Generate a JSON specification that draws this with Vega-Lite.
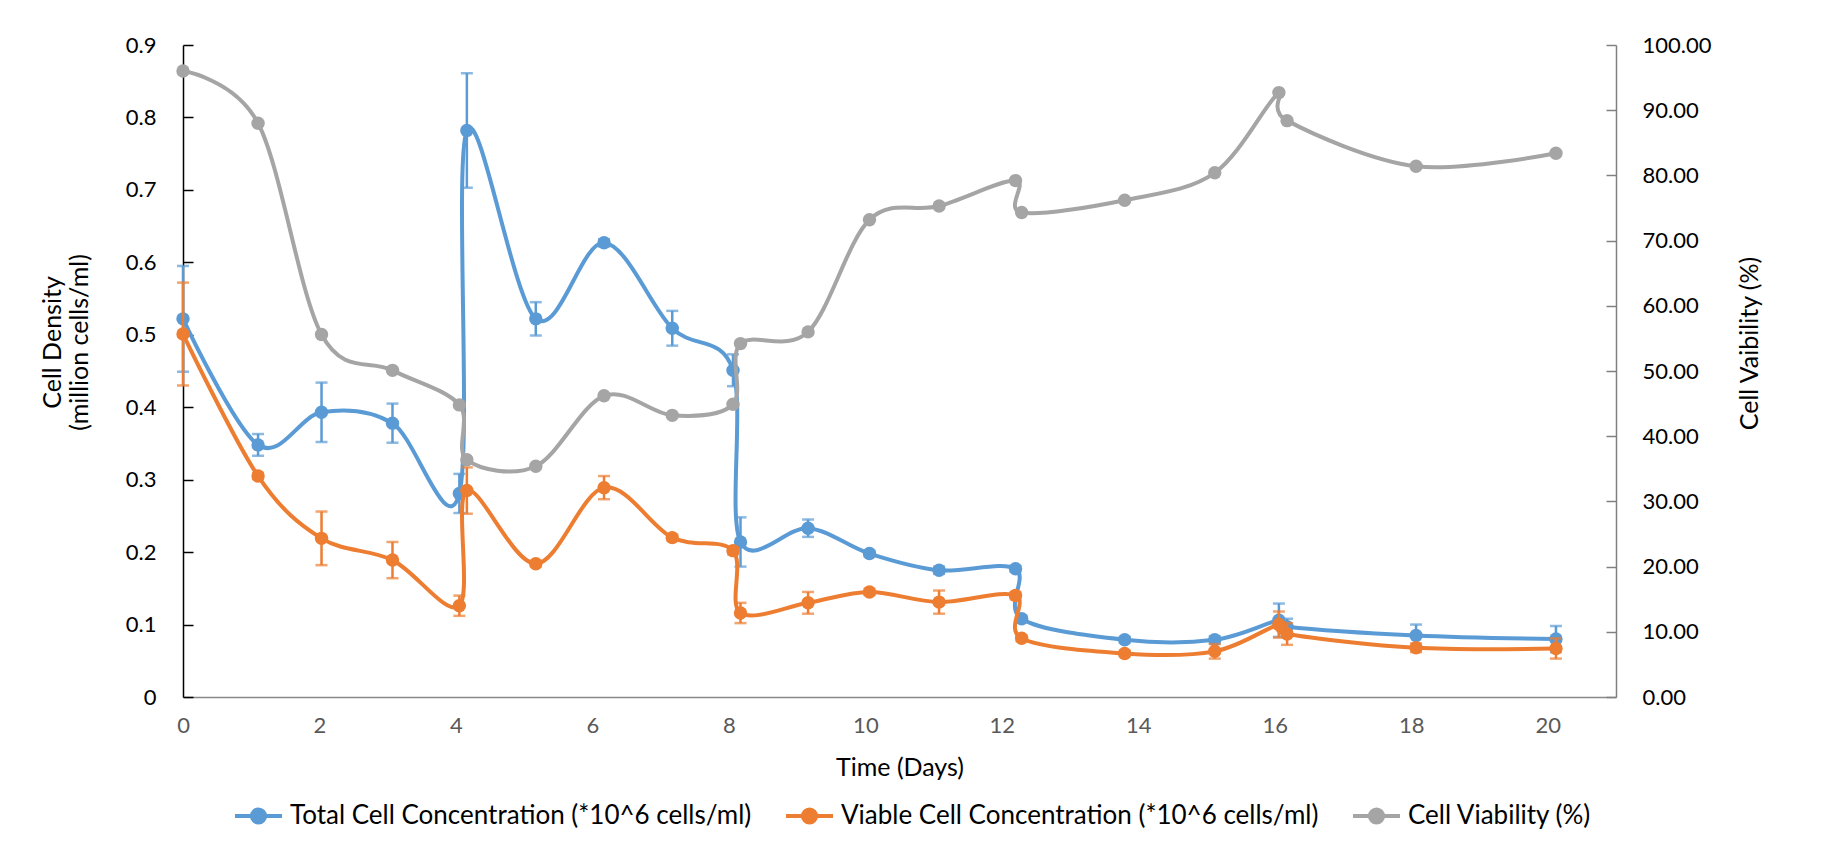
{
  "$schema": "https://vega.github.io/schema/vega-lite/v6.json",
  "width": 1433,
  "height": 652,
  "autosize": {"type": "none"},
  "padding": {"left": 183, "top": 45, "right": 211, "bottom": 154},
  "background": "white",
  "config": {
    "view": {"stroke": null},
    "font": "Lato",
    "axis": {"grid": false, "labelFont": "Lato", "titleFont": "Lato", "titleFontWeight": "normal"}
  },
  "data": {
    "values": [
      {"day": 0,     "total": 0.522, "total_err": 0.073, "viable": 0.501, "viable_err": 0.071, "viability": 96.0},
      {"day": 1.1,   "total": 0.348, "total_err": 0.015, "viable": 0.305, "viable_err": 0.004, "viability": 88.0},
      {"day": 2.03,  "total": 0.393, "total_err": 0.041, "viable": 0.219, "viable_err": 0.037, "viability": 55.6},
      {"day": 3.07,  "total": 0.378, "total_err": 0.027, "viable": 0.189, "viable_err": 0.025, "viability": 50.1},
      {"day": 4.05,  "total": 0.281, "total_err": 0.027, "viable": 0.126, "viable_err": 0.014, "viability": 44.8},
      {"day": 4.16,  "total": 0.782, "total_err": 0.079, "viable": 0.285, "viable_err": 0.032, "viability": 36.4},
      {"day": 5.17,  "total": 0.522, "total_err": 0.023, "viable": 0.184, "viable_err": 0.004, "viability": 35.4},
      {"day": 6.17,  "total": 0.627, "total_err": 0.005, "viable": 0.289, "viable_err": 0.016, "viability": 46.2},
      {"day": 7.17,  "total": 0.509, "total_err": 0.024, "viable": 0.220, "viable_err": 0.004, "viability": 43.2},
      {"day": 8.06,  "total": 0.451, "total_err": 0.022, "viable": 0.202, "viable_err": 0.005, "viability": 44.9},
      {"day": 8.17,  "total": 0.214, "total_err": 0.034, "viable": 0.116, "viable_err": 0.014, "viability": 54.2},
      {"day": 9.16,  "total": 0.233, "total_err": 0.012, "viable": 0.130, "viable_err": 0.015, "viability": 56.0},
      {"day": 10.06, "total": 0.198, "total_err": 0.004, "viable": 0.145, "viable_err": 0.004, "viability": 73.2},
      {"day": 11.08, "total": 0.175, "total_err": 0.005, "viable": 0.131, "viable_err": 0.016, "viability": 75.3},
      {"day": 12.2,  "total": 0.177, "total_err": 0.004, "viable": 0.140, "viable_err": 0.005, "viability": 79.2},
      {"day": 12.29, "total": 0.108, "total_err": 0.004, "viable": 0.081, "viable_err": 0.004, "viability": 74.3},
      {"day": 13.8,  "total": 0.079, "total_err": 0.004, "viable": 0.060, "viable_err": 0.004, "viability": 76.2},
      {"day": 15.12, "total": 0.079, "total_err": 0.005, "viable": 0.063, "viable_err": 0.010, "viability": 80.4},
      {"day": 16.06, "total": 0.106, "total_err": 0.023, "viable": 0.100, "viable_err": 0.018, "viability": 92.7},
      {"day": 16.18, "total": 0.097, "total_err": 0.011, "viable": 0.087, "viable_err": 0.015, "viability": 88.4},
      {"day": 18.07, "total": 0.085, "total_err": 0.015, "viable": 0.068, "viable_err": 0.006, "viability": 81.4},
      {"day": 20.12, "total": 0.080, "total_err": 0.018, "viable": 0.067, "viable_err": 0.014, "viability": 83.4}
    ]
  },
  "encoding": {
    "x": {
      "field": "day",
      "type": "quantitative",
      "scale": {"domain": [0, 21], "nice": false, "zero": false},
      "axis": {
        "values": [0, 2, 4, 6, 8, 10, 12, 14, 16, 18, 20],
        "ticks": false,
        "domainColor": "#898989",
        "domainWidth": 1.5,
        "labelColor": "#595959",
        "labelFontSize": 22,
        "labelPadding": 18,
        "labelFlush": false,
        "title": "Time (Days)",
        "titleFontSize": 25,
        "titleColor": "#000000",
        "titleBaseline": "middle",
        "titleY": 70
      }
    }
  },
  "layer": [
    {
      "encoding": {
        "y": {
          "type": "quantitative",
          "scale": {"domain": [0, 0.9], "nice": false},
          "axis": {
            "orient": "left",
            "values": [0, 0.1, 0.2, 0.3, 0.4, 0.5, 0.6, 0.7, 0.8, 0.9],
            "format": ".1~f",
            "tickSize": -10,
            "tickColor": "#000000",
            "tickWidth": 1.5,
            "domainColor": "#000000",
            "domainWidth": 1.5,
            "labelPadding": 37,
            "labelFontSize": 22,
            "labelColor": "#000000",
            "title": ["Cell Density", "(million cells/ml)"],
            "titleFontSize": 25,
            "titleColor": "#000000",
            "titleAngle": -90,
            "titleAlign": "center",
            "titleBaseline": "middle",
            "titleLineHeight": 27,
            "titleX": -131,
            "titleY": 297
          }
        }
      },
      "layer": [
        {
          "mark": {"type": "line", "interpolate": "cardinal", "strokeWidth": 4},
          "encoding": {
            "y": {"field": "total"},
            "color": {
              "datum": "Total Cell Concentration (*10^6 cells/ml)",
              "type": "nominal",
              "scale": {
                "domain": ["Total Cell Concentration (*10^6 cells/ml)", "Viable Cell Concentration (*10^6 cells/ml)", "Cell Viability (%)"],
                "range": ["#5B9BD5", "#ED7D31", "#A5A5A5"]
              },
              "legend": {
                "orient": "none",
                "direction": "horizontal",
                "legendX": 50,
                "legendY": 745,
                "title": null,
                "symbolType": "M-1,0H1M0.28,0A0.28,0.28,0,1,1,-0.28,0A0.28,0.28,0,1,1,0.28,0Z",
                "symbolSize": 2209,
                "symbolStrokeWidth": 4,
                "symbolOpacity": 1,
                "labelFont": "Lato",
                "labelFontSize": 26,
                "labelColor": "#000000",
                "labelLimit": 0,
                "labelOffset": 6,
                "columnPadding": 26,
                "encode": {
                  "symbols": {
                    "update": {
                      "fill": {"scale": "color", "field": "value"},
                      "stroke": {"scale": "color", "field": "value"}
                    }
                  }
                }
              }
            }
          }
        },
        {
          "mark": {"type": "errorbar", "color": "#5B9BD5", "rule": {"strokeWidth": 2.5}, "ticks": {"size": 12, "thickness": 2.5}},
          "encoding": {"y": {"field": "total", "type": "quantitative"}, "yError": {"field": "total_err"}}
        },
        {
          "mark": {"type": "point", "filled": true, "size": 180, "opacity": 1},
          "encoding": {"y": {"field": "total"}, "color": {"datum": "Total Cell Concentration (*10^6 cells/ml)", "type": "nominal"}}
        },
        {
          "mark": {"type": "line", "interpolate": "cardinal", "strokeWidth": 4},
          "encoding": {"y": {"field": "viable"}, "color": {"datum": "Viable Cell Concentration (*10^6 cells/ml)", "type": "nominal"}}
        },
        {
          "mark": {"type": "errorbar", "color": "#ED7D31", "rule": {"strokeWidth": 2.5}, "ticks": {"size": 12, "thickness": 2.5}},
          "encoding": {"y": {"field": "viable", "type": "quantitative"}, "yError": {"field": "viable_err"}}
        },
        {
          "mark": {"type": "point", "filled": true, "size": 180, "opacity": 1},
          "encoding": {"y": {"field": "viable"}, "color": {"datum": "Viable Cell Concentration (*10^6 cells/ml)", "type": "nominal"}}
        }
      ]
    },
    {
      "encoding": {
        "y": {
          "field": "viability",
          "type": "quantitative",
          "scale": {"domain": [0, 100], "nice": false},
          "axis": {
            "orient": "right",
            "values": [0, 10, 20, 30, 40, 50, 60, 70, 80, 90, 100],
            "format": ".2f",
            "tickSize": -10,
            "tickColor": "#808080",
            "tickWidth": 1.5,
            "domainColor": "#808080",
            "domainWidth": 1.5,
            "labelPadding": 36,
            "labelFontSize": 22,
            "labelColor": "#000000",
            "title": "Cell Vaibility (%)",
            "titleFontSize": 25,
            "titleColor": "#000000",
            "titleAngle": -90,
            "titleAlign": "center",
            "titleBaseline": "middle",
            "titleX": 133,
            "titleY": 298
          }
        },
        "color": {"datum": "Cell Viability (%)", "type": "nominal"}
      },
      "layer": [
        {"mark": {"type": "line", "interpolate": "cardinal", "strokeWidth": 4}},
        {"mark": {"type": "point", "filled": true, "size": 180, "opacity": 1}}
      ]
    }
  ],
  "resolve": {"scale": {"y": "independent"}}
}
